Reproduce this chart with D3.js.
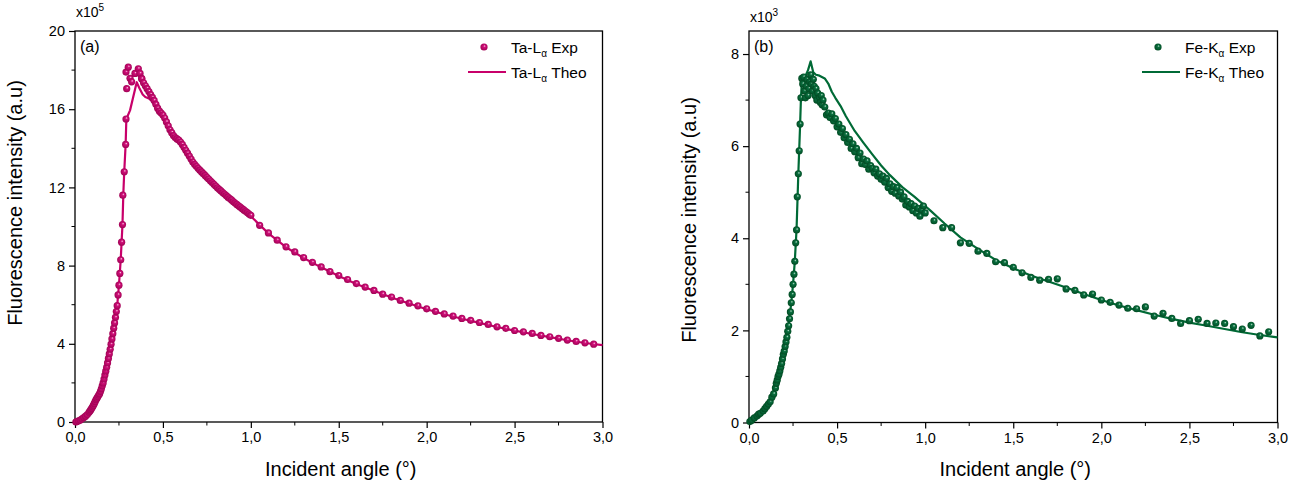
<!DOCTYPE html>
<html><head><meta charset="utf-8">
<script src="https://cdn.jsdelivr.net/npm/d3@7/dist/d3.min.js"></script>
<style>body{margin:0;background:#fff}svg{display:block}text{font-family:"Liberation Sans",Arial,sans-serif;fill:#000}</style>
</head><body><svg id="c" width="1303" height="482"></svg>
<script>
// ---------- DATA ----------
const xTicks = [0, 0.5, 1.0, 1.5, 2.0, 2.5, 3.0];
const xTickLabels = ["0,0","0,5","1,0","1,5","2,0","2,5","3,0"];
const taYTicks = [0, 4, 8, 12, 16, 20];
const feYTicks = [0, 2, 4, 6, 8];

// Ta-L alpha experimental (x 1e5)
const taExpX = [0.005,0.01,0.02,0.03,0.04,0.05,0.06,0.07,0.08,0.085,0.09,0.095,0.10,0.105,0.11,0.115,0.12,0.125,0.13,0.135,0.14,0.145,0.15,0.155,0.16,0.165,0.17,0.175,0.18,0.185,0.19,0.195,0.20,0.205,0.21,0.215,0.22,0.225,0.23,0.235,0.24,0.245,0.25,0.255,0.26,0.265,0.27,0.272,0.28,0.288,0.29,0.294,0.29,0.303,0.313,0.322,0.341,0.36,0.37,0.379,
0.38,0.39,0.40,0.41,0.42,0.43,0.44,0.45,0.46,0.47,0.48,0.49,0.50,0.51,0.52,0.53,0.54,0.55,0.56,0.57,0.58,0.59,0.60,0.61,0.62,0.63,0.64,0.65,0.66,0.67,0.68,0.69,0.70,0.71,0.72,0.73,0.74,0.75,0.76,0.77,0.78,0.79,0.80,0.81,0.82,0.83,0.84,0.85,0.86,0.87,0.88,0.89,0.90,0.91,0.92,0.93,0.94,0.95,0.96,0.97,0.98,0.99,1.00,
1.05,1.10,1.15,1.20,1.25,1.30,1.35,1.40,1.45,1.50,1.55,1.60,1.65,1.70,1.75,1.80,1.85,1.90,1.95,2.00,2.05,2.10,2.15,2.20,2.25,2.30,2.35,2.40,2.45,2.50,2.55,2.60,2.65,2.70,2.75,2.80,2.85,2.90,2.95];
const taExpY = [0.0,0.02,0.06,0.1,0.16,0.23,0.3,0.38,0.5,0.56,0.63,0.7,0.78,0.86,0.95,1.05,1.15,1.22,1.3,1.38,1.45,1.57,1.7,1.85,2.0,2.2,2.4,2.6,2.8,3.02,3.25,3.48,3.72,3.98,4.25,4.52,4.8,5.07,5.35,5.65,5.95,6.5,7.0,7.6,8.3,9.2,10.1,11.6,12.8,14.2,15.5,17.05,17.9,18.15,17.58,17.4,17.83,18.07,17.83,17.58,
17.55,17.35,17.2,17.05,16.9,16.75,16.6,16.45,16.25,16.05,15.9,15.8,15.7,15.55,15.35,15.15,14.95,14.8,14.65,14.55,14.48,14.42,14.32,14.2,14.05,13.9,13.75,13.6,13.45,13.3,13.18,13.08,12.98,12.88,12.79,12.7,12.61,12.52,12.43,12.34,12.25,12.16,12.07,11.98,11.9,11.82,11.74,11.66,11.58,11.5,11.43,11.36,11.28,11.2,11.13,11.06,10.99,10.92,10.85,10.78,10.71,10.64,10.57,
10.06,9.67,9.3,8.96,8.7,8.41,8.17,7.93,7.69,7.49,7.29,7.08,6.9,6.73,6.54,6.39,6.22,6.08,5.94,5.79,5.66,5.53,5.42,5.3,5.2,5.09,4.99,4.87,4.79,4.68,4.61,4.53,4.43,4.36,4.28,4.19,4.12,4.05,3.98];

// Ta-L alpha theoretical (x 1e5)
const taTheoX = [0,0.02,0.05,0.08,0.10,0.12,0.14,0.16,0.18,0.20,0.22,0.24,0.25,0.26,0.265,0.27,0.275,0.28,0.288,0.292,0.313,0.351,0.365,0.385,0.40,0.42,0.44,0.47,0.50,0.53,0.56,0.60,0.65,0.70,0.75,0.80,0.85,0.90,0.95,1.00,1.10,1.20,1.30,1.40,1.50,1.60,1.70,1.80,1.90,2.00,2.10,2.20,2.30,2.40,2.50,2.60,2.70,2.80,2.90,3.00];
const taTheoY = [0,0.06,0.23,0.5,0.78,1.15,1.45,2.0,2.8,3.72,4.8,5.95,7.0,8.3,9.2,10.1,11.7,12.8,14.2,15.5,15.94,17.38,17.1,16.75,16.62,16.55,16.4,15.95,15.6,15.1,14.62,14.25,13.55,12.95,12.5,12.05,11.64,11.25,10.9,10.52,9.65,8.94,8.39,7.91,7.47,7.06,6.71,6.37,6.06,5.77,5.51,5.28,5.07,4.86,4.67,4.5,4.34,4.18,4.04,3.93];

// Fe-K alpha experimental (x 1e3)
const feExpX = [0.005,0.015,0.03,0.045,0.055,0.065,0.08,0.09,0.10,0.11,0.12,0.13,0.14,0.15,0.155,0.16,0.165,0.17,0.175,0.18,0.185,0.19,0.195,0.20,0.205,0.21,0.215,0.22,0.225,0.23,0.235,0.24,0.245,0.25,0.255,0.26,0.265,0.27,0.274,0.28,0.285,0.29,0.295,
0.30,0.305,0.31,0.315,0.32,0.325,0.33,0.335,0.34,0.345,0.35,0.355,0.36,0.365,0.37,0.375,0.38,0.385,0.39,0.40,0.405,0.41,0.415,0.42,0.43,
0.44,0.45,0.46,0.47,0.48,0.49,0.50,0.51,0.52,0.53,0.54,0.55,0.56,0.57,0.58,0.59,0.60,0.61,0.62,0.63,0.64,0.65,0.66,0.67,0.68,0.69,0.70,0.71,0.72,0.73,0.74,0.75,0.76,0.77,0.78,0.79,0.80,0.81,0.82,0.83,0.84,0.85,0.86,0.87,0.88,0.89,0.90,0.91,0.92,0.93,0.94,0.95,0.96,0.97,0.98,0.99,1.00,
1.05,1.10,1.15,1.20,1.25,1.30,1.35,1.40,1.45,1.50,1.55,1.60,1.65,1.70,1.75,1.80,1.85,1.90,1.95,2.00,2.05,2.10,2.15,2.20,2.25,2.30,2.35,2.40,2.45,2.50,2.55,2.60,2.65,2.70,2.75,2.80,2.85,2.90,2.95];
const feExpY = [0.02,0.05,0.1,0.14,0.18,0.2,0.25,0.3,0.35,0.4,0.45,0.55,0.62,0.75,0.85,0.92,1.0,1.05,1.12,1.2,1.28,1.38,1.48,1.55,1.65,1.75,1.85,1.98,2.1,2.25,2.4,2.6,2.78,3.0,3.22,3.5,3.9,4.18,4.9,5.4,5.9,6.48,7.05,
7.47,7.35,7.5,7.2,7.05,7.3,7.45,7.1,7.25,7.4,7.55,7.35,7.2,7.45,7.3,7.1,7.25,7.0,7.15,7.05,6.95,7.1,6.9,7.0,6.85,
6.68,6.72,6.62,6.7,6.55,6.6,6.42,6.48,6.3,6.38,6.18,6.25,6.08,6.15,5.95,6.05,5.88,5.95,5.75,5.85,5.62,5.72,5.6,5.68,5.5,5.58,5.52,5.42,5.5,5.35,5.4,5.28,5.35,5.22,5.3,5.1,5.18,5.02,5.12,4.98,5.1,4.92,5.0,4.85,4.9,4.72,4.8,4.68,4.75,4.6,4.7,4.55,4.65,4.48,4.62,4.7,4.55,
4.38,4.23,4.23,3.9,3.89,3.72,3.67,3.49,3.47,3.37,3.25,3.15,3.09,3.11,3.12,2.9,2.87,2.77,2.79,2.66,2.61,2.55,2.48,2.47,2.51,2.31,2.37,2.26,2.15,2.21,2.24,2.15,2.16,2.15,2.08,2.03,2.11,1.88,1.97];

// Fe-K alpha theoretical (x 1e3)
const feTheoX = [0,0.05,0.10,0.15,0.18,0.20,0.22,0.24,0.25,0.26,0.27,0.28,0.29,0.295,0.30,0.32,0.335,0.35,0.365,0.38,0.40,0.43,0.45,0.47,0.49,0.52,0.55,0.60,0.65,0.70,0.75,0.80,0.87,0.94,1.03,1.11,1.20,1.30,1.40,1.50,1.60,1.70,1.80,1.90,2.00,2.10,2.20,2.30,2.40,2.50,2.60,2.70,2.80,2.90,3.00];
const feTheoY = [0,0.15,0.35,0.78,1.2,1.55,1.98,2.6,3.0,3.5,4.2,5.4,6.45,7.05,7.4,7.52,7.65,7.84,7.6,7.55,7.53,7.47,7.36,7.18,7.05,6.87,6.65,6.33,6.07,5.82,5.58,5.37,5.11,4.9,4.6,4.32,4.02,3.77,3.53,3.35,3.19,3.06,2.93,2.79,2.66,2.54,2.44,2.34,2.25,2.17,2.1,2.03,1.96,1.9,1.85];

// ---------- DRAW ----------
const svg = d3.select("#c");
const defs = svg.append("defs");
function ballGrad(id, light, mid, dark){
  const g = defs.append("radialGradient").attr("id", id)
    .attr("cx","50%").attr("cy","50%").attr("r","55%").attr("fx","60%").attr("fy","35%");
  g.append("stop").attr("offset","0%").attr("stop-color",light);
  g.append("stop").attr("offset","30%").attr("stop-color",mid);
  g.append("stop").attr("offset","100%").attr("stop-color",dark);
}
ballGrad("gTa", "#f8d0e4", "#d0107a", "#9c0050");
ballGrad("gFe", "#c4e2cf", "#0a7040", "#00461f");

function panel(o){
  const g = svg.append("g");
  const x = d3.scaleLinear().domain([0,3]).range([o.x0, o.x1]);
  const y = d3.scaleLinear().domain([0,o.yMax]).range([o.yb, o.yt]);
  const xMinor = d3.range(0.25, 3, 0.5);
  g.selectAll(".xm").data(xMinor).enter().append("line")
    .attr("x1", d=>x(d)).attr("x2", d=>x(d)).attr("y1", o.yb).attr("y2", o.yb+3.5)
    .attr("stroke","#000").attr("stroke-width",1);
  g.selectAll(".ym").data(o.yMinor).enter().append("line")
    .attr("y1", d=>y(d)).attr("y2", d=>y(d)).attr("x1", o.x0).attr("x2", o.x0-3.5)
    .attr("stroke","#000").attr("stroke-width",1);
  const xa = g.append("g").attr("transform",`translate(0,${o.yb})`)
    .call(d3.axisBottom(x).tickValues(xTicks).tickFormat((d,i)=>xTickLabels[i]).tickSize(6).tickPadding(4));
  const ya = g.append("g").attr("transform",`translate(${o.x0},0)`)
    .call(d3.axisLeft(y).tickValues(o.yTicks).tickSize(6).tickPadding(4));
  [xa,ya].forEach(a=>{
    a.select(".domain").remove();
    a.selectAll("line").attr("stroke","#000").attr("stroke-width",1.2);
    a.selectAll("text").style("font-size","14.5px").style("font-family",'"Liberation Sans",Arial,sans-serif');
  });
  g.append("rect").attr("x",o.x0).attr("y",o.yt).attr("width",o.x1-o.x0).attr("height",o.yb-o.yt)
    .attr("fill","none").attr("stroke","#000").attr("stroke-width",1.3);
  g.append("text").attr("x",(o.x0+o.x1)/2+2).attr("y",476).attr("text-anchor","middle")
    .style("font-size","20px").text("Incident angle (°)");
  g.append("text").attr("transform",`translate(${o.x0-53},${o.ylc}) rotate(-90)`)
    .attr("text-anchor","middle").style("font-size","20px").text("Fluorescence intensity (a.u)");
  const sc = g.append("text").attr("x",o.x0+1).attr("y",o.sy).style("font-size","14px");
  sc.append("tspan").text("x10");
  sc.append("tspan").attr("dy",-6).style("font-size","10px").text(o.exp);
  g.append("text").attr("x",o.x0+5).attr("y",o.yt+21).style("font-size","16px").text(o.tag);
  const line = d3.line().x(d=>x(d[0])).y(d=>y(d[1]));
  g.append("path").datum(o.tx.map((v,i)=>[v,o.ty[i]])).attr("d",line)
    .attr("fill","none").attr("stroke",o.color).attr("stroke-width",2.2).attr("stroke-linejoin","round");
  g.selectAll(".pt").data(o.ex.map((v,i)=>[v,o.ey[i]])).enter().append("circle")
    .attr("cx",d=>x(d[0])).attr("cy",d=>y(d[1])).attr("r",3.6)
    .attr("fill",`url(#${o.grad})`);
  const lg = g.append("g");
  lg.append("circle").attr("cx",o.lx).attr("cy",47).attr("r",3.6).attr("fill",`url(#${o.grad})`);
  lg.append("line").attr("x1",o.lx-16).attr("x2",o.lx+22).attr("y1",72).attr("y2",72)
    .attr("stroke",o.color).attr("stroke-width",2.2);
  function leg(yy, suffix){
    const t = lg.append("text").attr("x",o.lx+27).attr("y",yy).style("font-size","15.5px");
    t.append("tspan").text(o.el+"-"+o.line);
    t.append("tspan").attr("dy",4).style("font-size","10px").text("α");
    t.append("tspan").attr("dy",-4).text(" "+suffix);
  }
  leg(53,"Exp"); leg(78,"Theo");
}

panel({x0:75,x1:602.5,yt:31,yb:422,yMax:20,yTicks:taYTicks,yMinor:[2,6,10,14,18],
  exp:"5",tag:"(a)",color:"#c8006a",grad:"gTa",tx:taTheoX,ty:taTheoY,ex:taExpX,ey:taExpY,
  lx:484,el:"Ta",line:"L",ylc:203,sy:17});
panel({x0:749,x1:1277.5,yt:31,yb:422.5,yMax:8.5,yTicks:feYTicks,yMinor:[1,3,5,7],
  exp:"3",tag:"(b)",color:"#006a36",grad:"gFe",tx:feTheoX,ty:feTheoY,ex:feExpX,ey:feExpY,
  lx:1158,el:"Fe",line:"K",ylc:220,sy:22});
</script></body></html>
